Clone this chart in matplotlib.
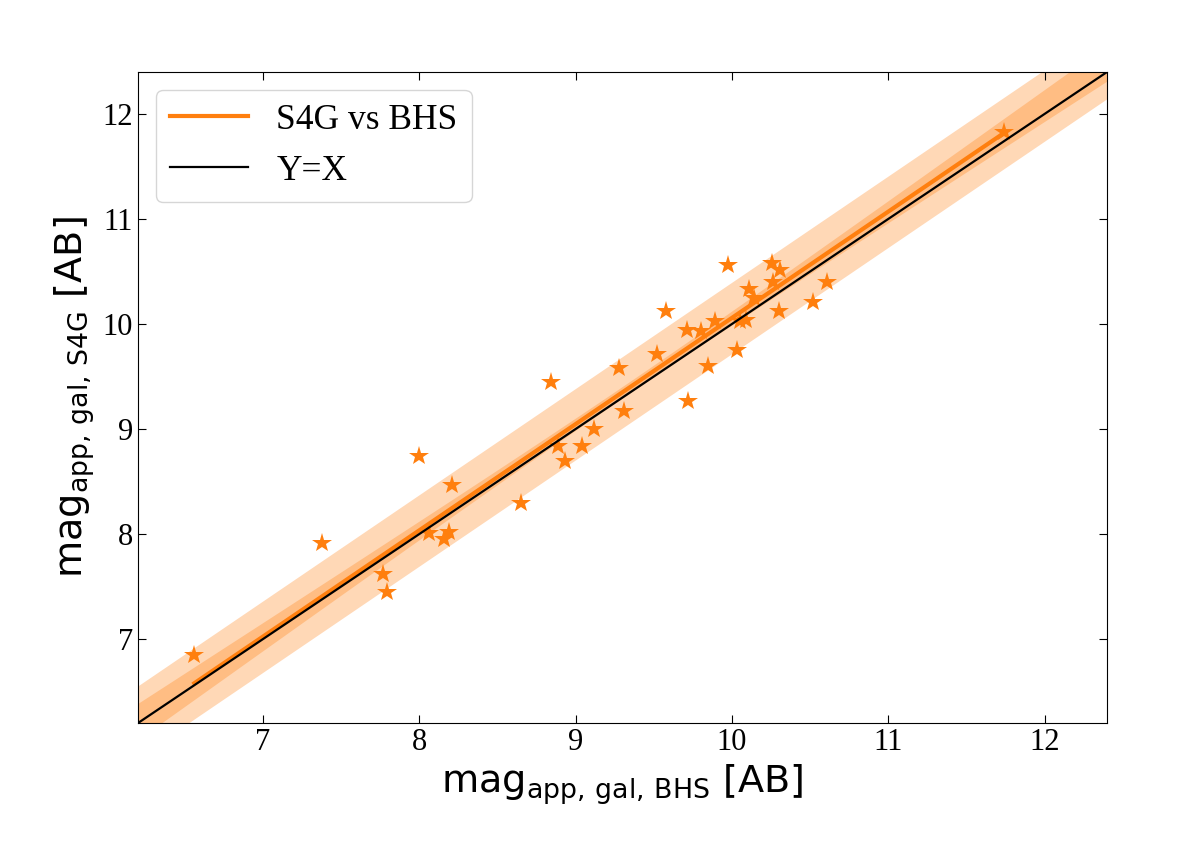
import numpy as np
import matplotlib
matplotlib.use('Agg')
import matplotlib.pyplot as plt

# magnitudes
mag_bhs = [6.56, 7.375, 7.77, 7.79, 8.00, 8.06, 8.16, 8.19, 8.21, 8.65,
           8.84, 8.89, 8.93, 9.04, 9.12, 9.28, 9.31, 9.52, 9.58, 9.71,
           9.72, 9.80, 9.85, 9.89, 9.975, 10.03, 10.05, 10.09, 10.11, 10.14,
           10.255, 10.265, 10.31, 10.30, 10.52, 10.61, 11.74]
mag_s4g = [6.85, 7.91, 7.62, 7.45, 8.74, 8.01, 7.95, 8.02, 8.47, 8.30,
           9.45, 8.84, 8.70, 8.84, 9.00, 9.58, 9.17, 9.71, 10.12, 9.94,
           9.27, 9.93, 9.60, 10.03, 10.56, 9.75, 10.03, 10.04, 10.33, 10.25,
           10.58, 10.40, 10.51, 10.12, 10.21, 10.40, 11.83]
scatter = 0.34   # 1 sigma scatter band
lims = [6.2, 12.4]

plt.rcParams['font.family'] = 'Liberation Serif'
plt.rcParams['mathtext.fontset'] = 'dejavusans'

fig = plt.figure(figsize=(11.96, 8.42), dpi=100)
ax = fig.add_axes([0.1154, 0.1413, 0.8102, 0.7732])

# orthogonal (total least squares) fit with scatter and confidence band
x = np.array(mag_bhs)
y = np.array(mag_s4g)
xm, ym = x.mean(), y.mean()
evals, evecs = np.linalg.eigh(np.cov(x, y))
vec   = evecs[:, np.argmax(evals)]
slope = vec[1] / vec[0]
icpt  = ym - slope * xm
sxx   = ((x - xm) ** 2).sum()

xx = np.linspace(lims[0], lims[1], 300)
yy = icpt + slope * xx
ci = scatter * np.sqrt(1 / len(x) + (xx - xm) ** 2 / sxx)
ax.fill_between(xx, yy - scatter, yy + scatter, color='tab:orange', alpha=0.3, lw=0)
ax.fill_between(xx, yy - ci, yy + ci, color='tab:orange', alpha=0.3, lw=0)

xf = np.array([x.min(), x.max()])
ax.plot(xf, icpt + slope * xf, color='tab:orange', lw=3, label='S4G vs BHS')
ax.plot(x, y, '*', color='tab:orange', ms=15, mew=0)
ax.plot(lims, lims, color='k', lw=1.6, label='Y=X')

ax.set_xlim(lims)
ax.set_ylim(lims)
ax.tick_params(direction='in', top=True, right=True, labelsize=22, length=6)
ax.set_xlabel(r'$\mathrm{mag}_{\mathrm{app,\,gal,\,BHS}}$ [AB]', fontsize=27.5, family='DejaVu Sans')
ax.set_ylabel(r'$\mathrm{mag}_{\mathrm{app,\,gal,\,S4G}}$ [AB]', fontsize=27.5, family='DejaVu Sans')
ax.legend(loc='upper left', fontsize=25.5, handlelength=2.2)

fig.savefig('out.png', dpi=100)
